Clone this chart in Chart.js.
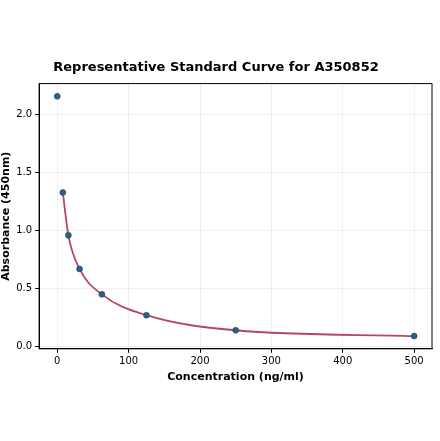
<!DOCTYPE html>
<html><head><script src="https://cdn.jsdelivr.net/npm/chart.js@4"></script>
<style>body{margin:0;background:#fff}#w{width:440px;height:441px}</style></head>
<body><div id="w"><canvas id="c"></canvas></div>
<script>
const conc=[0,7.8,15.6,31.25,62.5,125,250,500];
const absorb=[2.16,1.33,0.96,0.67,0.45,0.27,0.14,0.09];
const fitX=[7.8,15.6,31.25,62.5,125,250,500];
const fitY=[1.33,0.96,0.67,0.45,0.27,0.14,0.09];
const xTicks=[0,100,200,300,400,500];
const yTicks=[0,0.5,1.0,1.5,2.0];
new Chart(document.getElementById('c'),{
data:{datasets:[
{type:'line',data:fitX.map((x,i)=>({x,y:fitY[i]})),borderColor:'#b5485f',borderWidth:1.8,pointRadius:0,cubicInterpolationMode:'monotone',order:2},
{type:'scatter',data:conc.map((x,i)=>({x,y:absorb[i]})),backgroundColor:'#2e5f8a',borderColor:'#1f3f5f',borderWidth:0.5,pointRadius:3,order:1}
]},
options:{responsive:true,maintainAspectRatio:false,animation:false,
layout:{padding:{top:60,right:8,left:0,bottom:57}},
plugins:{legend:{display:false},tooltip:{enabled:false},
title:{display:true,text:'Representative Standard Curve for A350852',font:{family:'DejaVu Sans',size:13,weight:'bold'},color:'#000',padding:{top:0,bottom:8}}},
scales:{
x:{type:'linear',min:-25.4,max:525,afterBuildTicks:a=>{a.ticks=xTicks.map(v=>({value:v}))},
ticks:{color:'#000',font:{family:'DejaVu Sans',size:10},callback:v=>v},
grid:{color:'rgba(0,0,0,0.06)',tickColor:'#000',tickLength:4},border:{color:'#000'},
title:{display:true,text:'Concentration (ng/ml)',font:{family:'DejaVu Sans',size:11,weight:'bold'},color:'#000',padding:0}},
y:{min:-0.02,max:2.27,afterBuildTicks:a=>{a.ticks=yTicks.map(v=>({value:v}))},
ticks:{color:'#000',font:{family:'DejaVu Sans',size:10},callback:v=>v.toFixed(1)},
grid:{color:'rgba(0,0,0,0.06)',tickColor:'#000',tickLength:4},border:{color:'#000'},
title:{display:true,text:'Absorbance (450nm)',font:{family:'DejaVu Sans',size:11,weight:'bold'},color:'#000',padding:{top:0,bottom:0}}}
}},
plugins:[{id:'box',afterDraw(c){const a=c.chartArea,x=c.ctx;x.save();x.strokeStyle='#000';x.lineWidth=1;x.strokeRect(a.left,a.top,a.right-a.left,a.bottom-a.top);x.restore();}}]
});
</script></body></html>
